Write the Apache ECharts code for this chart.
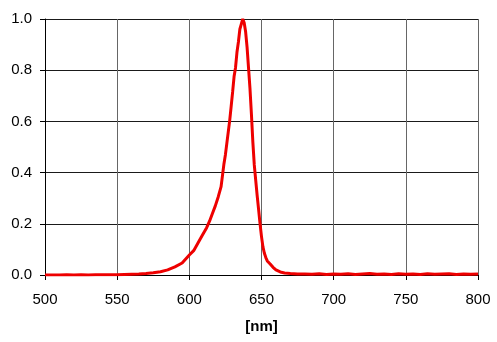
<!DOCTYPE html>
<html>
<head>
<meta charset="utf-8">
<script src="https://cdn.jsdelivr.net/npm/echarts@6/dist/echarts.min.js"></script>
<style>
    html, body {margin: 0; padding: 0; background: #fff;}
    #main {width: 497px; height: 342px;}
</style>
</head>
<body>
<div id="main"></div>
<script>
// 波长 (nm) 与归一化强度，读自原图
let wavelength = [
    500, 505, 510, 515, 520, 525, 530, 535, 540, 545, 550, 555, 560, 565, 570, 575, 580, 585, 590, 595,
    600, 603, 606, 609, 612, 614, 616, 618, 620, 622, 623, 624, 625, 626, 627, 628, 629, 630, 631, 632,
    633, 634, 635, 636, 637, 638, 639, 640, 641, 642, 643, 644, 645, 646, 647, 648, 649, 650, 651, 652,
    653, 654, 656, 658, 660, 663, 666, 670, 675, 680, 685, 690, 695, 700, 705, 710, 715, 720, 725, 730,
    735, 740, 745, 750, 755, 760, 765, 770, 775, 780, 785, 790, 795, 800
];
let intensity = [
    0.000, 0.000, 0.000, 0.001, 0.000, 0.001, 0.000, 0.001, 0.001, 0.001, 0.001, 0.002, 0.003, 0.004, 0.006, 0.009, 0.013, 0.020, 0.032, 0.047,
    0.078, 0.095, 0.125, 0.155, 0.185, 0.210, 0.240, 0.270, 0.305, 0.345, 0.390, 0.435, 0.470, 0.515, 0.560, 0.605, 0.660, 0.715, 0.775, 0.810,
    0.870, 0.910, 0.960, 0.980, 1.000, 0.985, 0.950, 0.890, 0.810, 0.730, 0.630, 0.520, 0.430, 0.370, 0.310, 0.255, 0.200, 0.150, 0.110, 0.085,
    0.068, 0.055, 0.043, 0.030, 0.020, 0.012, 0.008, 0.006, 0.004, 0.004, 0.003, 0.005, 0.002, 0.004, 0.003, 0.005, 0.002, 0.004, 0.006, 0.003,
    0.004, 0.002, 0.005, 0.003, 0.004, 0.002, 0.005, 0.003, 0.004, 0.005, 0.002, 0.004, 0.003, 0.004
];
let xTicks = {min: 500, max: 800, step: 50};
let yTicks = {min: 0, max: 1, step: 0.2};

let seriesData = [];
for (let i = 0; i < wavelength.length; i++) {
    seriesData.push([wavelength[i], intensity[i]]);
}

let myChart = echarts.init(document.getElementById('main'));
let option = {
    backgroundColor: '#fff',
    animation: false,
    grid: {
        left: 45,
        right: 19,
        top: 19,
        bottom: 67
    },
    xAxis: {
        type: 'value',
        min: xTicks.min,
        max: xTicks.max,
        interval: xTicks.step,
        name: '[nm]',
        nameLocation: 'middle',
        nameGap: 44,
        nameTextStyle: {
            fontFamily: 'Liberation Sans',
            fontSize: 15,
            fontWeight: 'bold',
            color: '#000'
        },
        axisLine: {onZero: false, lineStyle: {color: '#000', width: 1}},
        axisTick: {show: true, length: 5, lineStyle: {color: '#000'}},
        axisLabel: {
            margin: 17,
            fontFamily: 'Liberation Sans',
            fontSize: 15,
            color: '#000'
        },
        splitLine: {show: true, lineStyle: {color: '#666', width: 1}}
    },
    yAxis: {
        type: 'value',
        min: yTicks.min,
        max: yTicks.max,
        interval: yTicks.step,
        axisLine: {show: true, lineStyle: {color: '#000', width: 1}},
        axisTick: {show: true, length: 5, lineStyle: {color: '#000'}},
        axisLabel: {
            margin: 13,
            fontFamily: 'Liberation Sans',
            fontSize: 15,
            color: '#000',
            formatter: function (v) {
                return v.toFixed(1);
            }
        },
        splitLine: {show: true, lineStyle: {color: '#1a1a1a', width: 1}}
    },
    series: [
        {
            type: 'line',
            data: seriesData,
            symbol: 'none',
            lineStyle: {color: '#ee0000', width: 3},
            z: 5
        }
    ]
};
myChart.setOption(option);
</script>
</body>
</html>
